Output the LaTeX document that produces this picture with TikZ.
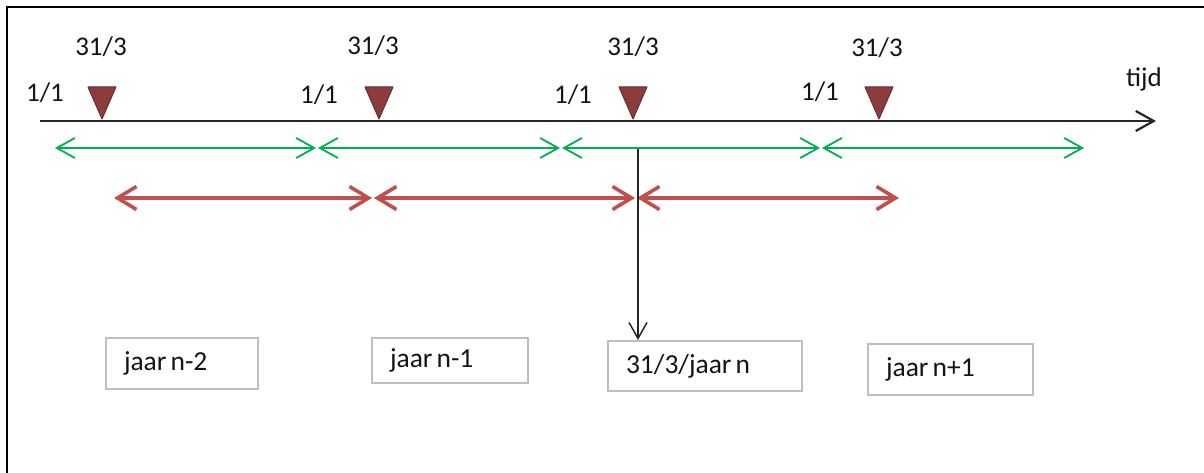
\documentclass[tikz,border=0pt]{standalone}
\usepackage{fontspec}
\setmainfont{Carlito}
\usetikzlibrary{arrows.meta}
\definecolor{grn}{RGB}{0,176,80}
\definecolor{redcol}{RGB}{192,80,77}
\definecolor{tri}{RGB}{140,60,60}
\definecolor{boxgray}{RGB}{191,191,191}
\definecolor{txt}{RGB}{20,20,20}
\begin{document}
\begin{tikzpicture}[x=1pt,y=-1pt,
  lbl/.style={font=\fontsize{27}{32}\selectfont, text=txt, inner sep=0pt},
  yearbox/.style={draw=boxgray, line width=2pt, font=\fontsize{27.5}{32}\selectfont, text=txt,
     align=left, inner xsep=18pt, inner ysep=0pt, execute at begin node={\spaceskip=0.15em\relax}},
  tribox/.style={fill=tri, draw=tri!75!black, line width=1pt, line join=round},
  greenarr/.style={grn, line width=1.8pt, {Straight Barb[length=18pt,width=20pt]}-{Straight Barb[length=18pt,width=20pt]}, shorten <=1pt, shorten >=1pt},
  redline/.style={redcol, line width=3.6pt, {Straight Barb[length=19pt,width=23pt]}-{Straight Barb[length=19pt,width=23pt]}, shorten <=1pt, shorten >=1pt},
  axis/.style={black!85, line width=2.2pt, -{Straight Barb[length=18pt,width=20pt]}},
  down/.style={black!85, line width=1.5pt, -{Straight Barb[length=16pt,width=18pt]}}
]
\useasboundingbox (0,0) rectangle (1204,473);
% frame
\draw[line width=2.5pt] (7,473) -- (7,7) -- (1204,7);

% time axis
\coordinate (t0) at (40,121);
\coordinate (t1) at (1156,121);
\draw[axis] (t0) -- (t1);
\node[lbl] (tijd) at (1144,79) {tijd};

% triangles (31/3 markers)
\foreach \x in {102,379,633,879} {
  \filldraw[tribox] (\x-14,87) -- (\x+14,87) -- (\x,119) -- cycle;
}

% labels
\node[lbl] (d1) at (101,47) {31/3};
\node[lbl] (d2) at (373,46) {31/3};
\node[lbl] (d3) at (633,47) {31/3};
\node[lbl] (d4) at (877,48) {31/3};
\node[lbl] (j1) at (45,93) {1/1};
\node[lbl] (j2) at (319,95) {1/1};
\node[lbl] (j3) at (573,95) {1/1};
\node[lbl] (j4) at (820,92) {1/1};

% green arrows (calendar years)
\coordinate (g0) at (54,148);
\coordinate (g1) at (317,148);
\coordinate (g2) at (561,148);
\coordinate (g3) at (821,148);
\coordinate (g4) at (1085,148);
\draw[greenarr] (g0) -- (g1);
\draw[greenarr] (g1) -- (g2);
\draw[greenarr] (g2) -- (g3);
\draw[greenarr] (g3) -- (g4);

% red arrows
\coordinate (r0) at (113,198);
\coordinate (r1) at (373,198);
\coordinate (r2) at (636,198);
\coordinate (r3) at (900,198);
\draw[redline] (r0) -- (r1);
\draw[redline] (r1) -- (r2);
\draw[redline] (r2) -- (r3);

% boxes
\node[yearbox, minimum width=152pt, minimum height=51pt, text width=116pt] (b1) at (182,363.5) {jaar n-2};
\node[yearbox, minimum width=156pt, minimum height=45pt, text width=120pt] (b2) at (450,360.5) {jaar n-1};
\node[yearbox, minimum width=194pt, minimum height=50pt, text width=158pt] (b3) at (705,366) {31/3/jaar n};
\node[yearbox, minimum width=165pt, minimum height=51pt, text width=129pt] (b4) at (950.5,369.5) {jaar n+1};

% vertical arrow
\coordinate (v0) at (638,149);
\draw[down] (v0) -- (v0 |- b3.north);
\end{tikzpicture}
\end{document}
